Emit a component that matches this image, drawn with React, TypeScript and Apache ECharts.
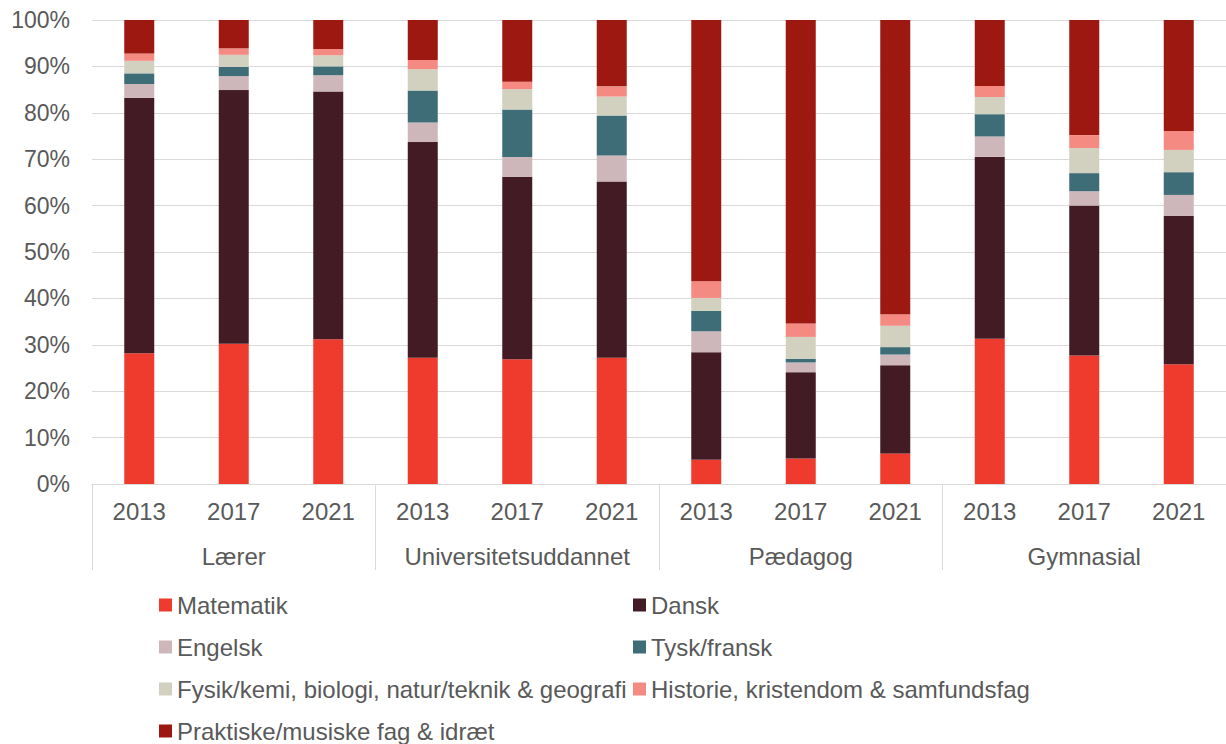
import React, { useEffect, useRef } from "react";
import * as echarts from "echarts";

const groups = ["Lærer", "Universitetsuddannet", "Pædagog", "Gymnasial"];
const years = ["2013", "2017", "2021"];
const categories = groups.flatMap((g) => years.map((y) => g + "|" + y));

const seriesNames = [
  "Matematik",
  "Dansk",
  "Engelsk",
  "Tysk/fransk",
  "Fysik/kemi, biologi, natur/teknik & geografi",
  "Historie, kristendom & samfundsfag",
  "Praktiske/musiske fag & idræt",
];

const matematik = [28.2, 30.2, 31.2, 27.2, 26.9, 27.2, 5.2, 5.5, 6.6, 31.3, 27.7, 25.8];
const dansk = [55.0, 54.7, 53.4, 46.5, 39.3, 38.0, 23.2, 18.6, 19.0, 39.2, 32.3, 32.0];
const engelsk = [3.0, 3.0, 3.5, 4.2, 4.3, 5.6, 4.5, 2.1, 2.3, 4.4, 3.1, 4.5];
const tyskFransk = [2.3, 2.0, 1.9, 6.9, 10.2, 8.6, 4.4, 0.8, 1.6, 4.8, 3.9, 4.9];
const fysik = [2.7, 2.6, 2.4, 4.6, 4.4, 4.1, 2.8, 4.7, 4.6, 3.7, 5.4, 4.8];
const historie = [1.6, 1.4, 1.35, 2.0, 1.6, 2.2, 3.6, 2.9, 2.5, 2.4, 2.8, 4.1];
const praktiske = [7.2, 6.1, 6.25, 8.6, 13.3, 14.5, 56.3, 65.4, 63.4, 14.2, 24.8, 23.9];

const seriesValues = [matematik, dansk, engelsk, tyskFransk, fysik, historie, praktiske];
const colors = ["#EE3B2E", "#431B25", "#CEB7BB", "#3E6C77", "#D2D1BF", "#F48A82", "#9C1810"];

const yTicks = { min: 0, max: 100, interval: 10 };

const FONT = "'Liberation Sans', Arial, sans-serif";
const TEXT = "#595959";
const GRID = "#d9d9d9";

export default function App() {
  const ref = useRef<HTMLDivElement>(null);
  useEffect(() => {
    if (!ref.current) return;
    const chart = echarts.init(ref.current, undefined, { renderer: "svg" });
    const legendText = { color: TEXT, fontSize: 24, fontFamily: FONT, lineHeight: 24 };
    chart.setOption({
      animation: false,
      textStyle: { fontFamily: FONT },
      grid: { left: 92, right: -2, top: 20, bottom: 260, containLabel: false },
      legend: [
        {
          orient: "vertical",
          left: 159,
          top: 593,
          padding: 0,
          itemGap: 18,
          itemWidth: 13,
          itemHeight: 13,
          icon: "rect",
          selectedMode: false,
          textStyle: legendText,
          data: [seriesNames[0], seriesNames[2], seriesNames[4], seriesNames[6]],
        },
        {
          orient: "vertical",
          left: 633,
          top: 593,
          padding: 0,
          itemGap: 18,
          itemWidth: 13,
          itemHeight: 13,
          icon: "rect",
          selectedMode: false,
          textStyle: legendText,
          data: [seriesNames[1], seriesNames[3], seriesNames[5]],
        },
      ],
      xAxis: [
        {
          type: "category",
          data: categories,
          position: "bottom",
          axisLine: { show: true, lineStyle: { color: GRID, width: 1 } },
          axisTick: { show: false },
          axisLabel: {
            interval: 0,
            margin: 15,
            color: TEXT,
            fontSize: 24,
            fontFamily: FONT,
            formatter: (v: string) => v.split("|")[1],
          },
        },
        {
          type: "category",
          data: groups,
          position: "bottom",
          offset: 0,
          axisLine: { show: false },
          axisTick: { show: true, length: 86, interval: 0, lineStyle: { color: GRID, width: 1 } },
          axisLabel: { interval: 0, margin: 60, color: TEXT, fontSize: 24, fontFamily: FONT },
        },
      ],
      yAxis: {
        type: "value",
        min: yTicks.min,
        max: yTicks.max,
        interval: yTicks.interval,
        axisLine: { show: false },
        axisTick: { show: false },
        splitLine: { lineStyle: { color: GRID, width: 1 } },
        axisLabel: { formatter: "{value}%", color: TEXT, fontSize: 23, fontFamily: FONT, margin: 22 },
      },
      series: seriesNames.map((name, i) => ({
        name,
        type: "bar",
        stack: "total",
        xAxisIndex: 0,
        barWidth: 30,
        itemStyle: { color: colors[i] },
        data: seriesValues[i],
      })),
    });
    return () => chart.dispose();
  }, []);
  return (
    <div
      ref={ref}
      style={{ position: "fixed", left: 0, top: 0, width: 1226, height: 744, background: "#fff" }}
    />
  );
}
